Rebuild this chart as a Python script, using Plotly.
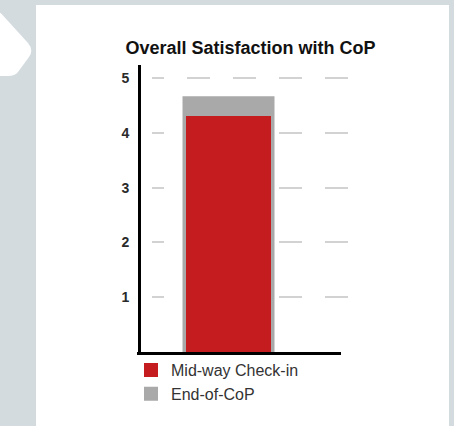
import plotly.graph_objects as go

# ---- data ----
categories = ["CoP"]
series_names = ["Mid-way Check-in", "End-of-CoP"]
midway_values = [4.29]
end_values = [4.65]
tick_values = [1, 2, 3, 4, 5]
tick_labels = ["1", "2", "3", "4", "5"]

# ---- layout geometry (pixels) ----
W, H = 454, 426
L, R, T, B = 141, 348, 65, 352

def px(x):
    return (x - L) / (R - L)

def py(y):
    return (B - y) / (B - T)

RED = "#c41c1f"
GRAY = "#a9a9a9"
BG = "#d3dbdf"

fig = go.Figure()
fig.add_trace(go.Bar(
    x=categories, y=end_values, name=series_names[1],
    marker=dict(color=GRAY, line=dict(color=GRAY, width=2)),
    width=90 / (R - L), legendrank=2, hoverinfo="skip",
))
fig.add_trace(go.Bar(
    x=categories, y=midway_values, name=series_names[0],
    marker=dict(color=RED, line=dict(color=RED, width=2)),
    width=83 / (R - L), legendrank=1, hoverinfo="skip",
))

center = 228.5
x_lo = -(center - L) / (R - L)
fig.update_layout(
    width=W, height=H,
    margin=dict(l=L, r=W - R, t=T, b=H - B, pad=0),
    paper_bgcolor=BG, plot_bgcolor="rgba(0,0,0,0)",
    barmode="overlay",
    font=dict(family="Liberation Sans, Arial, sans-serif", color="#222"),
    title=dict(
        text="<b>Overall Satisfaction with CoP</b>",
        font=dict(size=18, color="#111"),
        x=px(250.5), xref="paper", xanchor="center",
        y=1 - 48 / H, yref="container", yanchor="middle",
    ),
    xaxis=dict(
        range=[x_lo, x_lo + 1], showticklabels=False, showgrid=False,
        zeroline=False, showline=False, ticks="", fixedrange=True,
    ),
    yaxis=dict(
        range=[0, (B - T) / 54.8], tickvals=tick_values, ticktext=tick_labels,
        tickfont=dict(size=14, color="#2a2a2a", weight="bold"),
        ticks="", ticklabelstandoff=6,
        showgrid=True, gridcolor="#d2d2d2", gridwidth=2,
        griddash="0px,11px,12px,23px,23px,23px,23px,23px,23px,23px,23px,23px",
        zeroline=False, showline=True, linecolor="#000", linewidth=3,
        fixedrange=True,
    ),
    legend=dict(
        x=px(131), y=py(353), xanchor="left", yanchor="top",
        font=dict(size=16, color="#333"), bgcolor="rgba(0,0,0,0)",
        tracegroupgap=0, itemclick=False, itemdoubleclick=False,
    ),
    showlegend=True,
    shapes=[
        # white panel
        dict(type="rect", xref="paper", yref="paper",
             x0=px(36), x1=px(449), y0=py(5), y1=py(440),
             fillcolor="white", line=dict(width=0), layer="below"),
        # chevron at left
        dict(type="path", xref="paper", yref="paper", layer="below",
             path=(f"M{px(-2)},{py(10)} L{px(28)},{py(43)} "
                   f"Q{px(34)},{py(50)} {px(29)},{py(57)} "
                   f"L{px(18)},{py(72)} Q{px(15)},{py(76)} {px(8)},{py(76)} "
                   f"L{px(-2)},{py(76)} Z"),
             fillcolor="white", line=dict(width=0)),
        # x axis line
        dict(type="line", xref="paper", yref="paper",
             x0=px(137), x1=px(341), y0=py(353.5), y1=py(353.5),
             line=dict(color="#000", width=3)),
    ],
)

fig.write_html("out.html", config={"displayModeBar": False})
